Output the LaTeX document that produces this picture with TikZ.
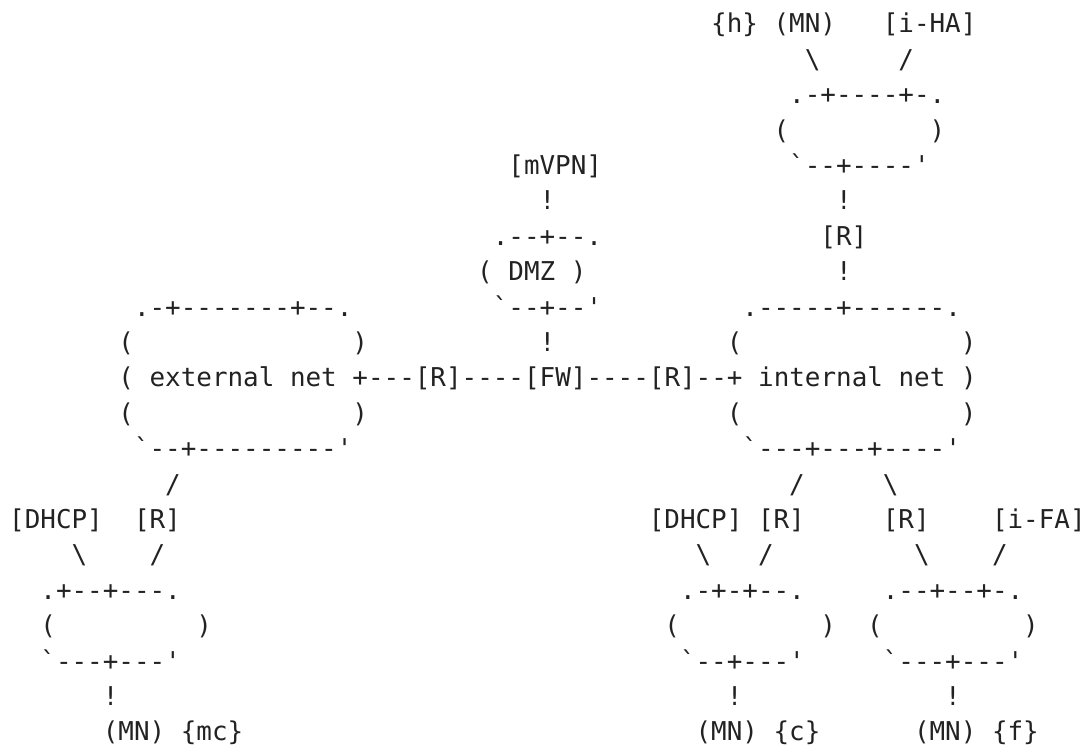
\documentclass[tikz,border=0pt]{standalone}
\usepackage{fontspec}
\setmonofont{DejaVu Sans Mono}
\definecolor{ink}{HTML}{222222}
\newcommand\asciifnt{\ttfamily\fontsize{12.96}{15}\selectfont}
\newcommand\tx[4]{\node[txt] (#1) at ({9.2+15.6*#2},{33+35.4*#3}) {#4};}
\newcommand\bq{\textasciigrave}
\newcommand\sq{\textquotesingle}
\newcommand\bs{\textbackslash}
\tikzset{txt/.style={anchor=base west, inner sep=0pt, outer sep=0pt, font=\asciifnt, text=ink}}
\begin{document}
\begin{tikzpicture}[x=0.5pt,y=-0.5pt]
\useasboundingbox (0,0) rectangle (1084,753);
% line 0
\tx{h}{45}{0}{\{h\} (MN)}
\tx{iha}{56}{0}{[i-HA]}
% line 1
\tx{l1a}{51}{1}{\bs}
\tx{l1b}{57}{1}{/}
% line 2
\tx{l2a}{50}{2}{.-+----+-.}
% line 3
\tx{l3a}{49}{3}{(}
\tx{l3b}{59}{3}{)}
% line 4
\tx{mvpn}{32}{4}{[mVPN]}
\tx{l4b}{50}{4}{\bq--+----\sq}
% line 5
\tx{l5a}{34}{5}{!}
\tx{l5b}{53}{5}{!}
% line 6
\tx{l6a}{31}{6}{.--+--.}
\tx{r1}{52}{6}{[R]}
% line 7
\tx{l7a}{30}{7}{(}
\tx{dmz}{32}{7}{DMZ}
\tx{l7c}{36}{7}{)}
\tx{l7d}{53}{7}{!}
% line 8
\tx{l8a}{8}{8}{.-+-------+--.}
\tx{l8b}{31}{8}{\bq--+--\sq}
\tx{l8c}{47}{8}{.-----+------.}
% line 9
\tx{l9a}{7}{9}{(}
\tx{l9b}{22}{9}{)}
\tx{l9c}{34}{9}{!}
\tx{l9d}{46}{9}{(}
\tx{l9e}{61}{9}{)}
% line 10
\tx{l10}{7}{10}{( external net +---[R]----[FW]----[R]--+ internal net )}
% line 11
\tx{l11a}{7}{11}{(}
\tx{l11b}{22}{11}{)}
\tx{l11d}{46}{11}{(}
\tx{l11e}{61}{11}{)}
% line 12
\tx{l12a}{8}{12}{\bq--+---------\sq}
\tx{l12b}{47}{12}{\bq---+---+----\sq}
% line 13
\tx{l13a}{10}{13}{/}
\tx{l13b}{50}{13}{/}
\tx{l13c}{56}{13}{\bs}
% line 14
\tx{dhcp1}{0}{14}{[DHCP]}
\tx{r2}{8}{14}{[R]}
\tx{dhcp2}{41}{14}{[DHCP]}
\tx{r3}{48}{14}{[R]}
\tx{r4}{56}{14}{[R]}
\tx{ifa}{63}{14}{[i-FA]}
% line 15
\tx{l15a}{4}{15}{\bs}
\tx{l15b}{9}{15}{/}
\tx{l15c}{44}{15}{\bs}
\tx{l15d}{48}{15}{/}
\tx{l15e}{58}{15}{\bs}
\tx{l15f}{63}{15}{/}
% line 16
\tx{l16a}{2}{16}{.+--+---.}
\tx{l16b}{43}{16}{.-+-+--.}
\tx{l16c}{56}{16}{.--+--+-.}
% line 17
\tx{l17a}{2}{17}{(}
\tx{l17b}{12}{17}{)}
\tx{l17c}{42}{17}{(}
\tx{l17d}{52}{17}{)}
\tx{l17e}{55}{17}{(}
\tx{l17f}{65}{17}{)}
% line 18
\tx{l18a}{2}{18}{\bq---+---\sq}
\tx{l18b}{43}{18}{\bq--+---\sq}
\tx{l18c}{56}{18}{\bq---+---\sq}
% line 19
\tx{l19a}{6}{19}{!}
\tx{l19b}{46}{19}{!}
\tx{l19c}{60}{19}{!}
% line 20
\tx{mc}{6}{20}{(MN) \{mc\}}
\tx{c}{44}{20}{(MN) \{c\}}
\tx{f}{58}{20}{(MN) \{f\}}
\end{tikzpicture}
\end{document}
